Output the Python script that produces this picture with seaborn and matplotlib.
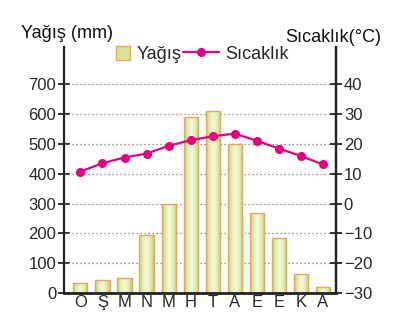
import numpy as np
import pandas as pd
import matplotlib
matplotlib.use("Agg")
import matplotlib.pyplot as plt
from matplotlib.patches import Patch, Rectangle
from matplotlib.lines import Line2D
from matplotlib.legend_handler import HandlerPatch
from matplotlib.colors import LinearSegmentedColormap
import seaborn as sns

# Monthly climate data
months = ["Ocak", "Şubat", "Mart", "Nisan", "Mayıs", "Haziran",
          "Temmuz", "Ağustos", "Eylül", "Ekim", "Kasım", "Aralık"]
month_labels = ["O", "Ş", "M", "N", "M", "H", "T", "A", "E", "E", "K", "A"]
precip_mm = [34, 43, 52, 194, 298, 589, 611, 500, 267, 184, 65, 20]
temp_c = [10.7, 13.5, 15.4, 16.7, 19.3, 21.2, 22.5, 23.4, 21.0, 18.4, 15.9, 13.1]

precip_ticks = [0, 100, 200, 300, 400, 500, 600, 700]
temp_ticks = [-30, -20, -10, 0, 10, 20, 30, 40]

BAR_EDGE = "#e3a866"
LINE_COLOR = "#e6007e"
SPINE = "#222222"
TICK_FS = 12
TITLE_FS = 13

sns.set_style("white")
plt.rcParams["font.family"] = ["Liberation Sans", "DejaVu Sans"]
plt.rcParams["axes.unicode_minus"] = True

fig = plt.figure(figsize=(4.12, 3.28), dpi=100)
ax = fig.add_axes([0.155, 0.106, 0.661, 0.751])

df = pd.DataFrame({"ay": months, "yagis": precip_mm})
sns.barplot(data=df, x="ay", y="yagis", order=months, ax=ax,
            color="#d6e39a", width=0.64, edgecolor=BAR_EDGE, linewidth=1.0,
            zorder=2)

ax.set_ylim(0, 824)
ax.set_xlim(-0.75, 11.6)

# horizontal gradient fill inside each bar
cmap = LinearSegmentedColormap.from_list(
    "bar", ["#bcd06a", "#e4edb4", "#f4f8dc", "#e4edb4", "#bcd06a"])
grad = np.linspace(0, 1, 64).reshape(1, -1)
for p in list(ax.patches):
    x0, y0 = p.get_x(), p.get_y()
    w, h = p.get_width(), p.get_height()
    im = ax.imshow(grad, cmap=cmap, aspect="auto",
                   extent=(x0, x0 + w, y0, y0 + h), zorder=2.1,
                   interpolation="bicubic")
    im.set_clip_path(p)
    p.set_facecolor("none")
    p.set_zorder(2.2)
ax.set_xlim(-0.75, 11.6)
ax.set_ylim(0, 824)

# dotted reference lines
for v in precip_ticks[1:]:
    ax.axhline(v, color="#8a8a8a", lw=0.9, ls=(0, (1.2, 2.0)), zorder=1)

ax.set_yticks(precip_ticks)
ax.set_yticklabels([str(v) for v in precip_ticks], fontsize=TICK_FS)
ax.set_xticks(range(len(months)))
ax.set_xticklabels(month_labels, fontsize=TICK_FS)
ax.set_xlabel("")
ax.set_ylabel("")
ax.tick_params(axis="y", direction="inout", length=8, width=1.3,
               color=SPINE, pad=1.5)
ax.tick_params(axis="x", length=0, pad=1.5)

for side in ["left", "right", "bottom"]:
    ax.spines[side].set_color(SPINE)
    ax.spines[side].set_linewidth(1.6)
ax.spines["top"].set_visible(False)
ax.spines["bottom"].set_linewidth(2.0)

# temperature on the secondary axis
ax2 = ax.twinx()
sns.lineplot(x=np.arange(len(months)), y=temp_c, ax=ax2, color=LINE_COLOR,
             lw=1.6, marker="o", markersize=6.5, markeredgewidth=0,
             zorder=4)
ax2.set_ylim(-30, 52.4)
ax2.set_xlim(-0.75, 11.6)
ax2.set_yticks(temp_ticks)
ax2.set_yticklabels([f"{v}".replace("-", "\u2212") for v in temp_ticks],
                    fontsize=TICK_FS)
ax2.tick_params(axis="y", direction="inout", length=8, width=1.3,
                color=SPINE, pad=1.5)
ax2.set_ylabel("")
for side in ["left", "top", "bottom"]:
    ax2.spines[side].set_visible(False)
ax2.spines["right"].set_color(SPINE)
ax2.spines["right"].set_linewidth(1.6)

# axis titles
fig.text(21 / 412, 0.897, "Yağış (mm)", fontsize=TITLE_FS, ha="left",
         va="center", color="#111111")
fig.text(381 / 412, 0.887, "Sıcaklık(°C)", fontsize=TITLE_FS, ha="right",
         va="center", color="#111111")


class SquarePatch(HandlerPatch):
    def create_artists(self, legend, orig_handle, xdescent, ydescent,
                       width, height, fontsize, trans):
        side = height * 0.95
        r = Rectangle((width - side - xdescent, -ydescent),
                      side, side, facecolor=orig_handle.get_facecolor(),
                      edgecolor=orig_handle.get_edgecolor(),
                      linewidth=orig_handle.get_linewidth(), transform=trans)
        return [r]


handles = [
    Patch(facecolor="#d6e39a", edgecolor=BAR_EDGE, linewidth=1.0),
    Line2D([0], [0], color=LINE_COLOR, lw=1.6, marker="o", markersize=6.5,
           markeredgewidth=0),
]
ax2.legend(handles, ["Yağış", "Sıcaklık"], loc="center",
           bbox_to_anchor=(0.47, 0.972), ncol=2, frameon=False,
           fontsize=TITLE_FS, handlelength=1.95, handleheight=0.9,
           handletextpad=0.35, columnspacing=0.1, borderaxespad=0,
           borderpad=0, numpoints=1, handler_map={Patch: SquarePatch()})

fig.savefig("out.png", dpi=100)
